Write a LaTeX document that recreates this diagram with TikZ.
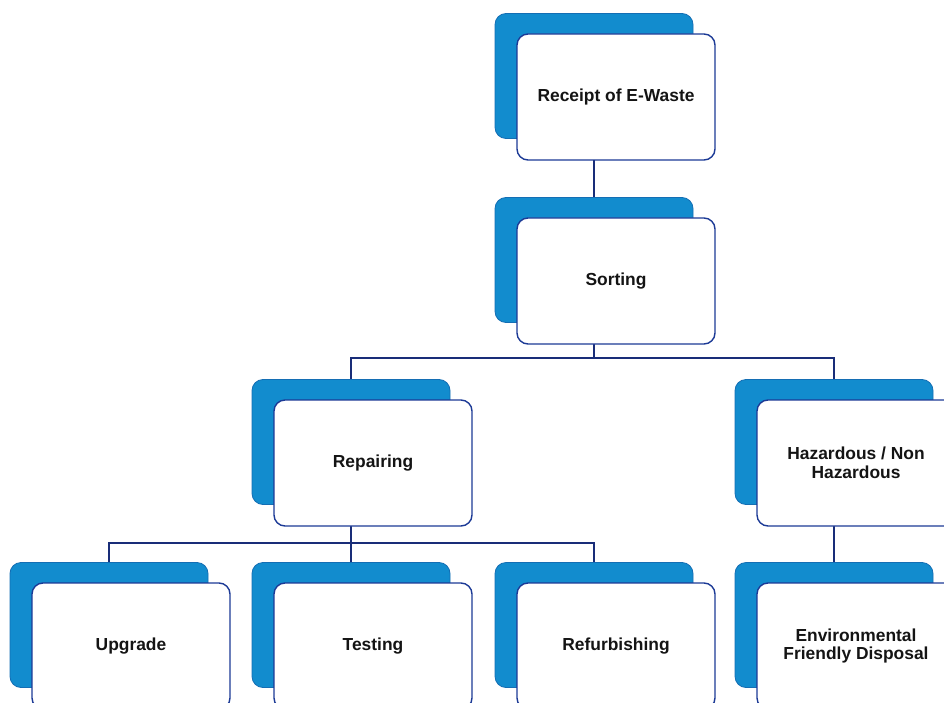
\documentclass[tikz,border=0pt]{standalone}
\usepackage{fontspec}
\setmainfont{Liberation Sans}
\usetikzlibrary{backgrounds}
\definecolor{backblue}{RGB}{18,140,206}
\definecolor{backedge}{RGB}{20,110,180}
\definecolor{frontedge}{RGB}{28,58,150}
\definecolor{linecol}{RGB}{25,45,120}
\tikzset{
  backbox/.style={draw=backedge, fill=backblue, line width=0.8pt, rounded corners=11pt,
    minimum width=198pt, minimum height=125pt, inner sep=0pt},
  frontbox/.style={draw=frontedge, fill=white, line width=1.4pt, rounded corners=11pt,
    minimum width=198pt, minimum height=126pt, inner sep=0pt, align=center,
    font=\fontsize{17.4}{18.5}\selectfont\bfseries, text=black!92},
  conn/.style={draw=linecol, line width=1.3pt}
}
\begin{document}
\begin{tikzpicture}[x=1pt,y=-1pt]
\useasboundingbox (0,0) rectangle (944,703);
\foreach \n/\x/\y/\t in {rec/594/76/{Receipt of E-Waste},
                         sor/594/260/{Sorting},
                         rep/351/442/{Repairing},
                         haz/834/442/{Hazardous / Non\\Hazardous},
                         upg/109/625/{Upgrade},
                         tes/351/625/{Testing},
                         ref/594/625/{Refurbishing},
                         env/834/625/{Environmental\\Friendly Disposal}}{
  \node[backbox] (\n B) at (\x,\y) {};
  \node[frontbox] (\n) at (\x+22,\y+21) {\t};
}
\coordinate (j1) at (594,358);
\coordinate (j2) at (351,543);
\begin{pgfonlayer}{background}
\draw[conn] (recB.center) -- (sorB.center);
\draw[conn] (sorB.center) -- (j1);
\draw[conn] (j1) -| (repB.center);
\draw[conn] (j1) -| (hazB.center);
\draw[conn] (repB.center) -- (j2);
\draw[conn] (j2) -| (upgB.center);
\draw[conn] (j2) -- (tesB.center);
\draw[conn] (j2) -| (refB.center);
\draw[conn] (hazB.center) -- (envB.center);
\end{pgfonlayer}
\end{tikzpicture}
\end{document}
